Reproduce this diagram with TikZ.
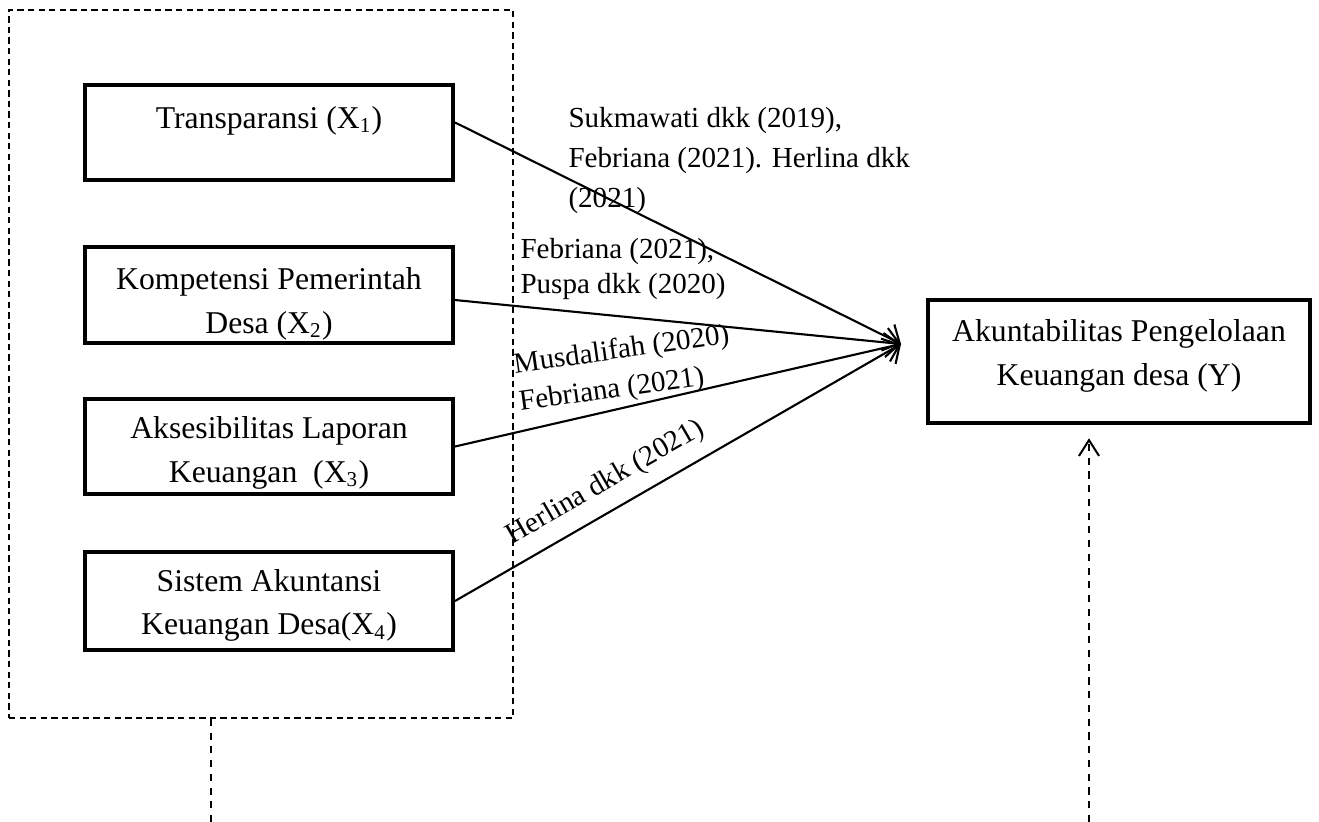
\documentclass[tikz,border=0pt]{standalone}
\usepackage{fontspec}
\setmainfont{Liberation Serif}
\usetikzlibrary{arrows.meta, positioning}
\tikzset{
    varbox/.style={rectangle, draw=black, line width=1.5pt, minimum width=139.3pt, minimum height=36.3pt, inner sep=0pt, align=center, text depth=0pt, font=\fontsize{12}{16.6}\selectfont},
    ybox/.style={varbox, minimum width=144.6pt, minimum height=46.6pt},
    groupbox/.style={rectangle, draw=black, line width=0.6pt, dash pattern=on 2.4pt off 1.6pt, minimum width=190.8pt, minimum height=268pt},
    citelabel/.style={align=left, inner sep=0pt, anchor=base west, font=\fontsize{11}{15.1}\selectfont},
    arrow/.style={line width=0.8pt, -{Straight Barb[length=5pt, width=11pt]}},
    dashline/.style={line width=0.75pt, dash pattern=on 2.7pt off 2.5pt}
}
\begin{document}
\begin{tikzpicture}[x=0.3785pt, y=-0.3785pt]
    \useasboundingbox (0,0) rectangle (1319,822);
    % independent variables
    \node (grp) [groupbox] at (261,364) {};
    \node (x1) [varbox, text height=8pt, text depth=11.4pt] at (269,132.5) {Transparansi (X\textsubscript{1})};
    \node (x2) [varbox, text height=28.8pt] at (269,295) {Kompetensi Pemerintah\\Desa (X\textsubscript{2})};
    \node (x3) [varbox, text height=26.9pt] at (269,446.5) {Aksesibilitas Laporan\\Keuangan\ \ (X\textsubscript{3})};
    \node (x4) [varbox, text height=25.7pt, minimum height=37.1pt] at (269,601) {Sistem Akuntansi\\Keuangan Desa(X\textsubscript{4})};
    % dependent variable
    \node (yv) [ybox, text height=17.8pt] at (1119,361.5) {Akuntabilitas Pengelolaan\\Keuangan desa (Y)};
    \coordinate (meet) at (901,344);

    \draw [arrow] ([yshift=3.8pt]x1.east) -- (meet);
    \draw [arrow] ([yshift=-1.9pt]x2.east) -- (meet);
    \draw [arrow] (x3.east) -- (meet);
    \draw [arrow] (x4.east) -- (meet);

    % references
    \node (r1) [citelabel] at (568,207) {Sukmawati dkk (2019),\\Febriana (2021). Herlina dkk\\(2021)};
    \node (r2) [citelabel, font=\fontsize{11}{13.2}\selectfont] at (520,293) {Febriana (2021),\\Puspa dkk (2020)};
    \node (r3) [citelabel, font=\fontsize{11}{14.4}\selectfont, rotate=8] at (520,411) {Musdalifah (2020)\\Febriana (2021)};
    \node (r4) [citelabel, rotate=30] at (512,545) {Herlina dkk (2021)};

    % dashed links at the bottom
    \coordinate (gbot) at (211,822);
    \coordinate (ybot) at (1089,822);
    \draw [dashline] (gbot |- grp.south) -- (gbot);
    \draw [dashline, -{Straight Barb[length=6pt, width=7.6pt]}, shorten >=5pt] (ybot) -- (ybot |- yv.south);
\end{tikzpicture}
\end{document}
